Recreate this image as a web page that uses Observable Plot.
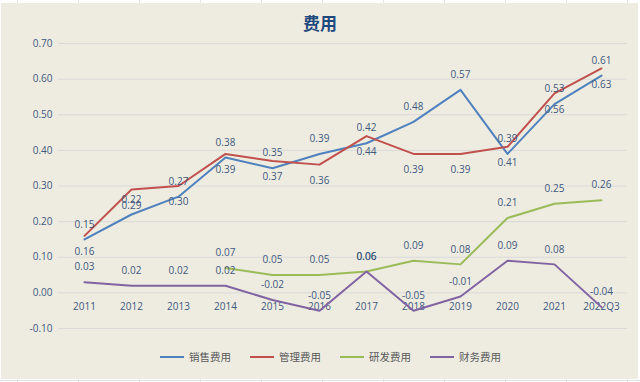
<!DOCTYPE html>
<html><head><meta charset="utf-8">
<script src="https://cdn.jsdelivr.net/npm/d3@7"></script>
<script src="https://cdn.jsdelivr.net/npm/@observablehq/plot@0.6"></script>
<style>
html,body{margin:0;padding:0}
body{width:640px;height:382px;overflow:hidden;position:relative;
  background:#fff repeating-linear-gradient(90deg,transparent 0,transparent 17px,#E3E3E3 17px,#E3E3E3 18px,transparent 18px,transparent 61px);
  background-size:61px 382px;background-position:0 0;}
#bg{position:absolute;left:1px;top:3px;width:637px;height:376px;background:#EEECE1}
#rowline{position:absolute;left:0;top:380px;width:640px;height:1px;background:#DCDFE4}
#title{position:absolute;left:0;width:640px;top:13px;text-align:center;font:bold 17px/19px "Noto Sans CJK SC",sans-serif;color:#1F497D}
#chart{position:absolute;left:0;top:0}
#legend{position:absolute;top:349px;left:160px;height:16px;display:flex;align-items:center;font:10.5px/16px "Noto Sans CJK SC",sans-serif;color:#595959}
.item{display:flex;align-items:center;margin-right:19px}
.sw{width:24px;height:2px;margin-right:5px}
</style></head>
<body>
<div id="bg"></div>
<div id="rowline"></div>
<div id="title">费用</div>
<div id="chart"></div>
<div id="legend"></div>
<script>
const years = ["2011","2012","2013","2014","2015","2016","2017","2018","2019","2020","2021","2022Q3"];
const sales = [0.15,0.22,0.27,0.38,0.35,0.39,0.42,0.48,0.57,0.39,0.53,0.61];
const mgmt  = [0.16,0.29,0.30,0.39,0.37,0.36,0.44,0.39,0.39,0.41,0.56,0.63];
const rnd   = [null,null,null,0.07,0.05,0.05,0.06,0.09,0.08,0.21,0.25,0.26];
const fin   = [0.03,0.02,0.02,0.02,-0.02,-0.05,0.06,-0.05,-0.01,0.09,0.08,-0.04];
const seriesNames = ["销售费用","管理费用","研发费用","财务费用"];
const seriesColors = ["#4F81BD","#C0504D","#9BBB59","#8064A2"];
const labelSide = ["above","below","above","above"];
const yTicks = [-0.1,0,0.1,0.2,0.3,0.4,0.5,0.6,0.7];

const allSeries = [sales, mgmt, rnd, fin];
const rows = [];
allSeries.forEach((vals, si) => vals.forEach((v, i) => {
  if (v != null) rows.push({series: seriesNames[si], si, year: years[i], value: v});
}));

const labelColor = "#40587E";
const font = "'Open Sans', sans-serif";

const marks = [
  Plot.ruleY(yTicks, {stroke: "#D9D9D9", strokeWidth: 1}),
  Plot.axisY({ticks: yTicks, tickFormat: d => d.toFixed(2), tickSize: 0, tickPadding: 6,
    label: null, fill: labelColor, fontSize: 10, fontFamily: font}),
  Plot.text(years, {x: d => d, y: 0, dy: 14, text: d => d, fill: labelColor, fontSize: 10, fontFamily: font})
];
seriesNames.forEach((name, si) => {
  const data = rows.filter(r => r.si === si);
  marks.push(Plot.line(data, {x: "year", y: "value", stroke: seriesColors[si], strokeWidth: 2, curve: "linear"}));
});
seriesNames.forEach((name, si) => {
  const data = rows.filter(r => r.si === si);
  marks.push(Plot.text(data, {x: "year", y: "value", text: d => d.value.toFixed(2),
    dy: labelSide[si] === "above" ? -15 : 16, fill: labelColor, fontSize: 10, fontFamily: font}));
});

const plot = Plot.plot({
  width: 640, height: 340,
  marginLeft: 58, marginRight: 13, marginTop: 43, marginBottom: 12,
  style: {background: "transparent", overflow: "visible"},
  x: {type: "point", domain: years, padding: 0.5, axis: null},
  y: {domain: [-0.1, 0.7], axis: null},
  marks
});
document.getElementById("chart").appendChild(plot);

const legend = document.getElementById("legend");
seriesNames.forEach((n, i) => {
  const it = document.createElement("div"); it.className = "item";
  const sw = document.createElement("div"); sw.className = "sw"; sw.style.background = seriesColors[i];
  const tx = document.createElement("span"); tx.textContent = n;
  it.appendChild(sw); it.appendChild(tx); legend.appendChild(it);
});
</script>
</body></html>
